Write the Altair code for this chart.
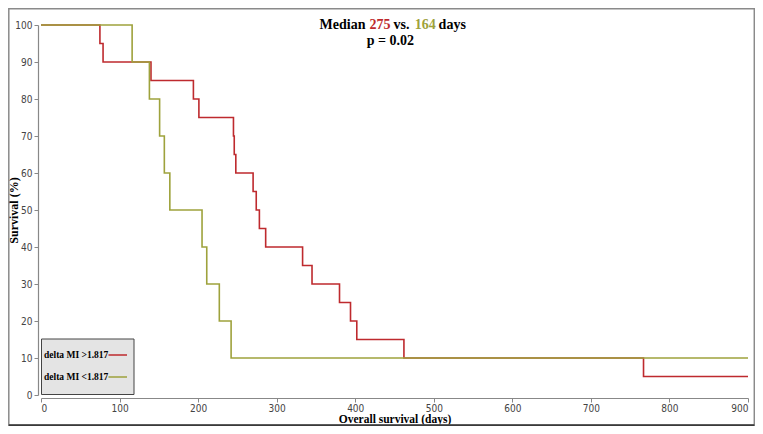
import altair as alt
import pandas as pd

# ---- data ----
red_days = [0, 75, 79, 140, 194, 201, 245, 246, 248, 270, 274, 278, 286, 333, 345, 380, 394, 402, 462, 767, 900]
red_surv = [100, 95, 90, 85, 80, 75, 70, 65, 60, 55, 50, 45, 40, 35, 30, 25, 20, 15, 10, 5, 5]
green_days = [0, 116, 138, 151, 157, 164, 205, 211, 227, 242, 900]
green_surv = [100, 90, 80, 70, 60, 50, 40, 30, 20, 10, 10]
groups = ["delta MI >1.817", "delta MI <1.817"]
colors = ["#be2a2e", "#9ea23c"]
x_ticks = [0, 100, 200, 300, 400, 500, 600, 700, 800, 900]
y_ticks = [0, 10, 20, 30, 40, 50, 60, 70, 80, 90, 100]

W, H = 707, 370
SERIF = "Liberation Serif, Times New Roman, serif"
SANS = "Liberation Sans Narrow, DejaVu Sans Condensed, Liberation Sans, sans-serif"

df = pd.concat([
    pd.DataFrame({"day": red_days, "surv": red_surv, "group": groups[0]}),
    pd.DataFrame({"day": green_days, "surv": green_surv, "group": groups[1]}),
])

one = alt.Data(values=[{}])

lines = alt.Chart(df).mark_line(interpolate="step-after", strokeWidth=1.6).encode(
    x=alt.X("day:Q", scale=alt.Scale(domain=[0, 900], nice=False),
            axis=alt.Axis(values=x_ticks, title="Overall survival (days)", grid=False,
                          offset=3, tickSize=4, labelPadding=1,
                          titleY=24.5, titleBaseline="alphabetic", titleFontSize=11.5)),
    y=alt.Y("surv:Q", scale=alt.Scale(domain=[0, 100], nice=False),
            axis=alt.Axis(values=y_ticks, title="Survival (%)", grid=False,
                          offset=3, tickSize=4, labelPadding=2,
                          titleX=-25, titleY=H / 2, titleBaseline="middle")),
    color=alt.Color("group:N", scale=alt.Scale(domain=groups, range=colors), legend=None),
    detail="group:N",
)

def txt(t, x, y, color="#000", size=14, align="left"):
    return alt.Chart(one).mark_text(
        text=t, font=SERIF, fontWeight="bold", fontSize=size, color=color,
        align=align, baseline="alphabetic"
    ).encode(x=alt.value(x), y=alt.value(y))

title_layers = [
    txt("Median", 278.6, 4),
    txt("275", 328.6, 4, color=colors[0]),
    txt("vs.", 352.6, 4),
    txt("164", 373.8, 4, color=colors[1]),
    txt("days", 397.6, 4),
    txt("p = 0.02", 349.3, 19.5, align="center"),
]

legend_box = alt.Chart(one).mark_rect(fill="#e4e4e4", stroke="#444", strokeWidth=1).encode(
    x=alt.value(0.5), x2=alt.value(93), y=alt.value(314), y2=alt.value(369.5))
legend_items = []
for i, (g, c) in enumerate(zip(groups, colors)):
    yy = 330 + i * 22
    legend_items.append(
        alt.Chart(one).mark_text(text=g, font=SERIF, fontWeight="bold", fontSize=9.5,
                                 color="#000", align="left", baseline="middle")
        .encode(x=alt.value(3), y=alt.value(yy)))
    legend_items.append(
        alt.Chart(one).mark_rule(color=c, strokeWidth=1.5)
        .encode(x=alt.value(67.5), x2=alt.value(86), y=alt.value(yy)))

frame = alt.Chart(one).mark_rect(fill=None, stroke="#8a8a8a", strokeWidth=1.5).encode(
    x=alt.value(-32.2), x2=alt.value(713.3), y=alt.value(-16.2), y2=alt.value(400.2))
frame_bottom = alt.Chart(one).mark_rule(color="#3a3a3a", strokeWidth=2).encode(
    x=alt.value(-32.2), x2=alt.value(713.3), y=alt.value(400.2))

chart = alt.layer(frame, frame_bottom, lines, legend_box, *legend_items, *title_layers).properties(
    width=W, height=H,
    autosize=alt.AutoSizeParams(type="none"),
    padding={"left": 33, "top": 17, "right": 7, "bottom": 31},
    background="white",
).configure_view(stroke=None).configure_axis(
    domainColor="#888", domainWidth=1.2, tickColor="#888",
    labelFont=SANS, labelFontSize=10, labelColor="#444",
    titleFont=SERIF, titleFontSize=12, titleFontWeight="bold", titleColor="#000",
)

chart.save("out.html", embed_options={"renderer": "svg", "actions": False})
